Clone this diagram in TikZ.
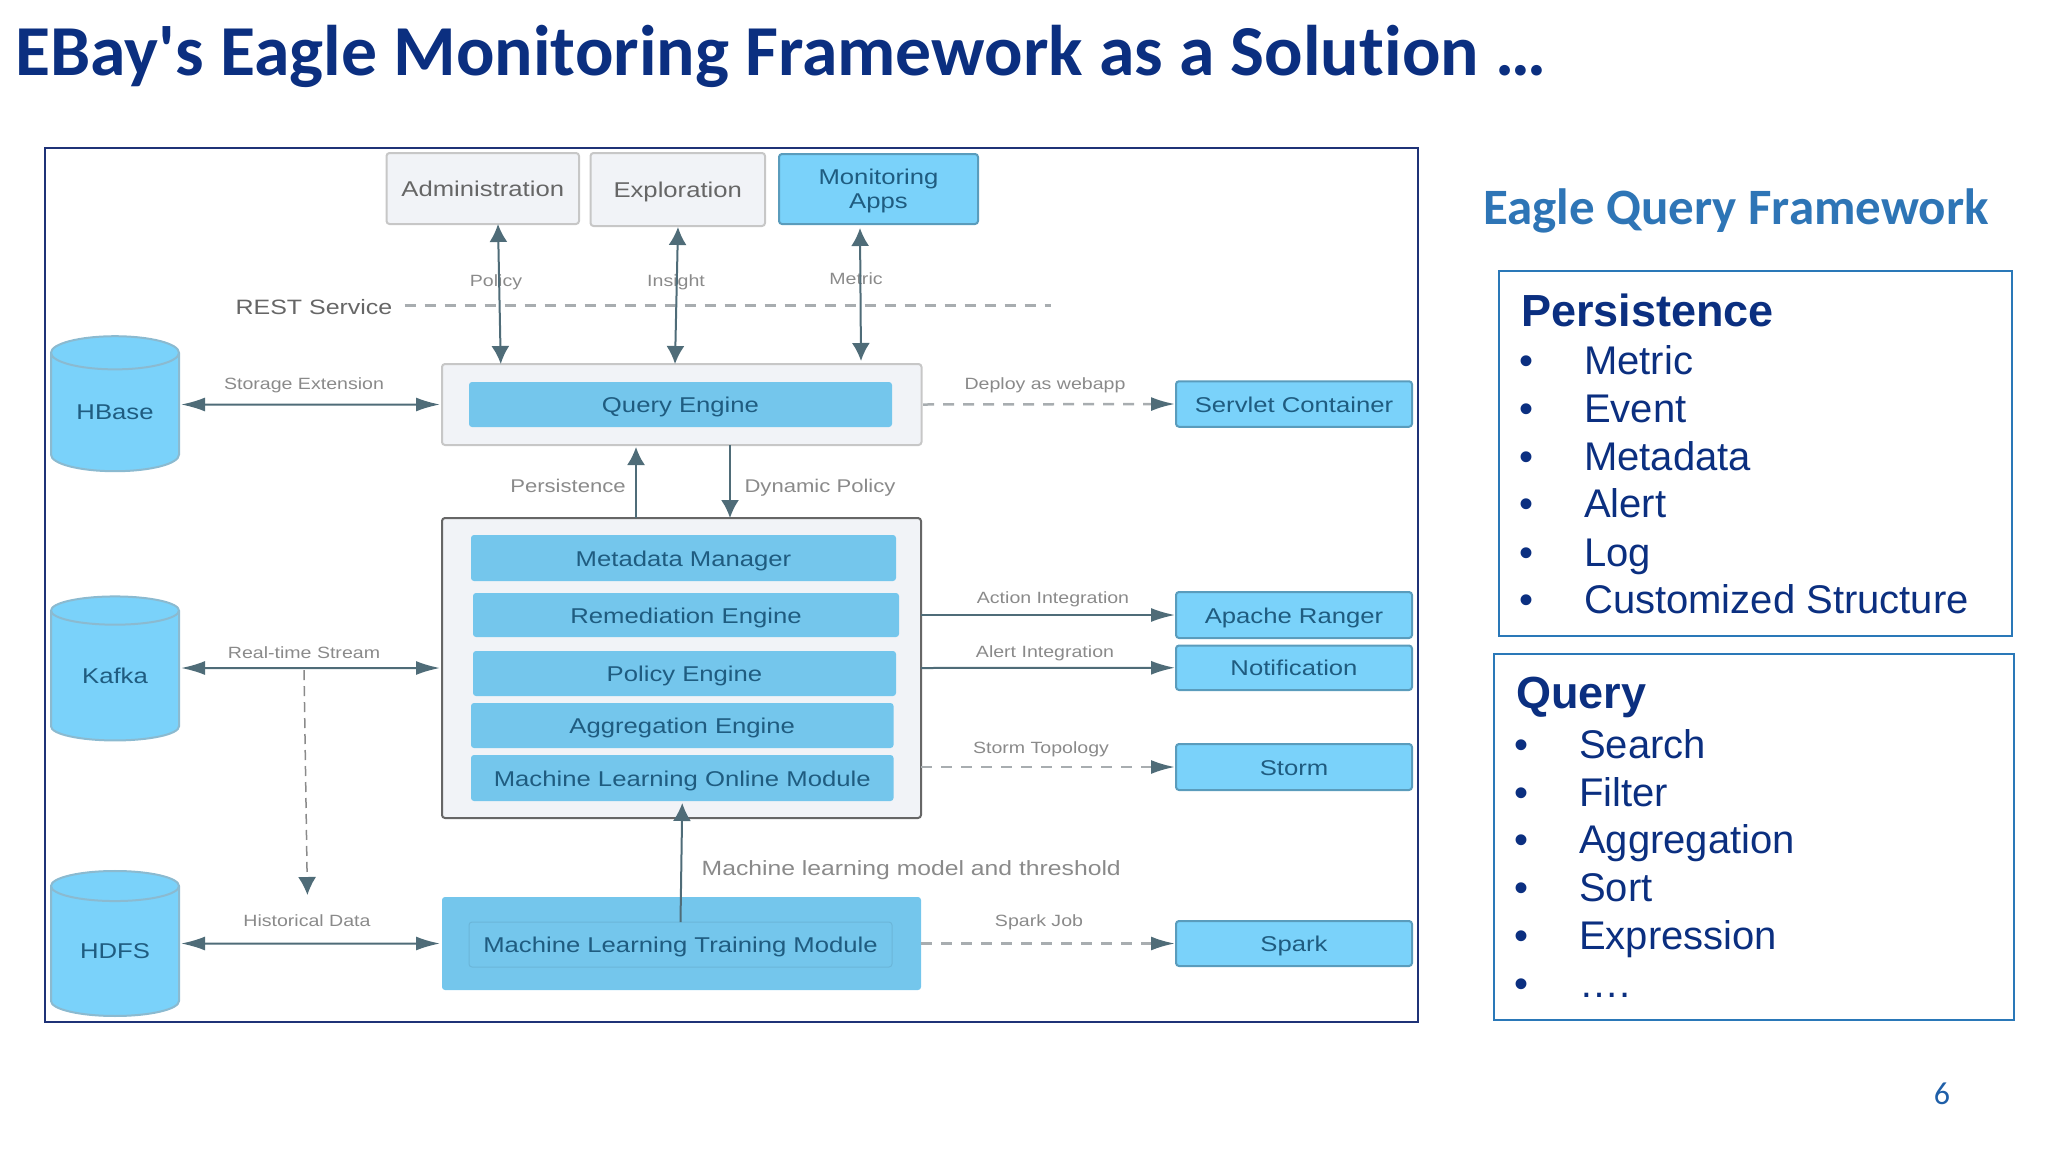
\documentclass[tikz,border=0pt]{standalone}
\usepackage{fontspec}
\usetikzlibrary{arrows.meta, shapes.geometric}
\setmainfont{Liberation Sans}
\newfontfamily\diagramfont[FakeStretch=1.2]{Liberation Sans}
\newfontfamily\titlefont[Ligatures=NoCommon]{Carlito}
\definecolor{navyBlue}{HTML}{0B2F80}
\definecolor{frameBlue}{HTML}{1F3277}
\definecolor{panelBlue}{HTML}{2A78B8}
\definecolor{headBlue}{HTML}{2E75B6}
\definecolor{pageBlue}{HTML}{1F5FA8}
\definecolor{skyBlue}{HTML}{7AD2FA}
\definecolor{engineBlue}{HTML}{74C6EC}
\definecolor{edgeBlue}{HTML}{5A9CBC}
\definecolor{inkBlue}{HTML}{1F5C80}
\definecolor{arrowGray}{HTML}{4F6C78}
\definecolor{labelGray}{HTML}{8A8A8A}
\definecolor{dashGray}{HTML}{A8ADB0}
\definecolor{paleGray}{HTML}{F1F3F7}
\begin{document}
\begin{tikzpicture}[x = 1pt, y = -1pt]
\tikzstyle{boxStyle} = [shape = rectangle, rounded corners = 3pt, outer sep = 0pt, inner sep = 0pt, align = center, text height = 20.4pt, text depth = 4pt, font = \diagramfont\fontsize{21.4}{23}\selectfont]
\tikzstyle{grayStyle} = [boxStyle, draw = black!22, line width = 2pt, fill = paleGray, text = black!60]
\tikzstyle{skyStyle} = [boxStyle, draw = edgeBlue, line width = 2pt, fill = skyBlue, text = inkBlue]
\tikzstyle{engineStyle} = [boxStyle, fill = engineBlue, text = inkBlue]
\tikzstyle{dbStyle} = [shape = cylinder, shape border rotate = 90, shape aspect = 0.43, outer sep = 0pt, inner sep = 0pt, draw = edgeBlue!70, line width = 2pt, cylinder uses custom fill, cylinder body fill = skyBlue, cylinder end fill = skyBlue, minimum width = 128pt, text = inkBlue, font = \diagramfont\fontsize{21.4}{23}\selectfont]
\tikzstyle{labelStyle} = [text = labelGray, inner sep = 0pt, text height = 16pt, text depth = 4pt, font = \diagramfont\fontsize{16.3}{18}\selectfont]
\tikzstyle{itemStyle} = [anchor = west, inner sep = 0pt, text height = 36.6pt, text depth = 8pt, text = navyBlue, font = \fontsize{40}{44}\selectfont]
\tikzstyle{headStyle} = [anchor = west, inner sep = 0pt, text height = 41pt, text depth = 9pt, text = navyBlue, font = \bfseries\fontsize{45}{48}\selectfont]
\tikzstyle{listBoxStyle} = [shape = rectangle, draw = panelBlue, line width = 2pt, outer sep = 0pt]
\tikzstyle{hEdgeStyle} = [draw = arrowGray, line width = 2pt, {Latex[length = 24pt, width = 14pt]}-{Latex[length = 24pt, width = 14pt]}]
\tikzstyle{vEdgeStyle} = [draw = arrowGray, line width = 2pt, {Latex[length = 18pt, width = 18pt]}-{Latex[length = 18pt, width = 18pt]}]
\tikzstyle{hDashStyle} = [draw = dashGray, line width = 2.5pt, dash pattern = on 11pt off 9pt, -{Latex[length = 24pt, width = 14pt, color = arrowGray]}]
\useasboundingbox (0, 0) rectangle (2048, 1152);
\node[anchor = base west, inner sep = 0pt, text = navyBlue, font = \titlefont\bfseries\fontsize{71.7}{76}\selectfont] (title) at (15, 75) {EBay's Eagle Monitoring Framework as a Solution \dots};
\node[anchor = west, inner sep = 0pt, text = headBlue, font = \titlefont\bfseries\fontsize{51}{55}\selectfont] (queryTitle) at (1483, 211) {Eagle Query Framework};
\node[inner sep = 0pt, text = pageBlue, font = \titlefont\fontsize{32}{36}\selectfont] (pageNumber) at (1942, 1094) {6};
\node[shape = rectangle, draw = frameBlue, line width = 2pt, minimum width = 1373pt, minimum height = 874pt] (frame) at (731.5, 585) {};
\node[grayStyle, minimum width = 192.5pt, minimum height = 71pt] (administration) at (482.75, 188.5) {Administration};
\node[grayStyle, minimum width = 174.5pt, minimum height = 73pt] (exploration) at (677.75, 189.5) {Exploration};
\node[skyStyle, text height =, text depth =, minimum width = 199pt, minimum height = 70pt] (monitoring) at (878.5, 189) {\rule{0pt}{20pt}Monitoring\\[1pt]Apps};
\node[grayStyle, minimum width = 479.5pt, minimum height = 81pt] (queryPanel) at (681.75, 404.5) {};
\node[engineStyle, minimum width = 423pt, minimum height = 45pt] (queryEngine) at (680.5, 404.5) {Query Engine};
\node[grayStyle, draw = black!60, minimum width = 479pt, minimum height = 300pt] (enginePanel) at (681.5, 668) {};
\node[engineStyle, minimum width = 425pt, minimum height = 46pt] (metadataManager) at (683.5, 558) {Metadata Manager};
\node[engineStyle, minimum width = 426pt, minimum height = 44pt] (remediationEngine) at (686, 615) {Remediation Engine};
\node[engineStyle, minimum width = 423pt, minimum height = 45pt] (policyEngine) at (684.5, 673.5) {Policy Engine};
\node[engineStyle, minimum width = 422.5pt, minimum height = 45pt] (aggregationEngine) at (682.25, 725.5) {Aggregation Engine};
\node[engineStyle, minimum width = 422.5pt, minimum height = 46pt] (onlineModule) at (682.25, 778) {Machine Learning Online Module};
\node[engineStyle, minimum width = 479pt, minimum height = 93pt] (trainingPanel) at (681.5, 943.5) {};
\node[engineStyle, draw = engineBlue!92!black, line width = 1pt, minimum width = 423pt, minimum height = 45pt] (trainingModule) at (680.5, 944.5) {Machine Learning Training Module};
\node[dbStyle, minimum height = 135pt] (hbase) at (115, 412.5) {HBase};
\node[dbStyle, minimum height = 144pt] (kafka) at (115, 676) {Kafka};
\node[dbStyle, minimum height = 145pt] (hdfs) at (115, 951.5) {HDFS};
\node[skyStyle, minimum width = 236pt, minimum height = 45.5pt] (servlet) at (1294, 404) {Servlet Container};
\node[skyStyle, minimum width = 236pt, minimum height = 46pt] (ranger) at (1294, 615) {Apache Ranger};
\node[skyStyle, minimum width = 236pt, minimum height = 44.5pt] (notification) at (1294, 667.75) {Notification};
\node[skyStyle, minimum width = 236pt, minimum height = 46pt] (storm) at (1294, 767) {Storm};
\node[skyStyle, minimum width = 236pt, minimum height = 45pt] (spark) at (1294, 943.5) {Spark};
\node[labelStyle, text = black!60, text height = 18pt, font = \diagramfont\fontsize{20.8}{22}\selectfont] (restLabel) at (314, 307) {REST Service};
\node[labelStyle] (policyLabel) at (496, 280) {Policy};
\node[labelStyle] (insightLabel) at (676, 280) {Insight};
\node[labelStyle] (metricLabel) at (856, 278) {Metric};
\node[labelStyle] (storageLabel) at (304, 383) {Storage Extension};
\node[labelStyle] (streamLabel) at (304, 652) {Real-time Stream};
\node[labelStyle] (historyLabel) at (307, 920) {Historical Data};
\node[labelStyle, font = \diagramfont\fontsize{18.4}{20}\selectfont] (persistLabel) at (568, 486) {Persistence};
\node[labelStyle, font = \diagramfont\fontsize{18.4}{20}\selectfont] (dynamicLabel) at (820, 486) {Dynamic Policy};
\node[labelStyle, anchor = west, text height = 18pt, font = \diagramfont\fontsize{20.6}{22}\selectfont] (modelLabel) at (701.5, 868) {Machine learning model and threshold};
\node[labelStyle] (deployLabel) at (1045, 383) {Deploy as webapp};
\node[labelStyle] (actionLabel) at (1053, 597) {Action Integration};
\node[labelStyle] (alertLabel) at (1045, 651) {Alert Integration};
\node[labelStyle] (topologyLabel) at (1041, 747) {Storm Topology};
\node[labelStyle] (jobLabel) at (1039, 920) {Spark Job};
\coordinate (restEnd) at (1051, 305);
\coordinate (streamTap) at (304, 670);
\coordinate (historyEnd) at (307.4, 895);
\draw[draw = dashGray, line width = 3pt, dash pattern = on 11pt off 9pt] ([xshift = 12pt, yshift = 2pt]restLabel.east) -- (restEnd);
\draw[vEdgeStyle] ([xshift = 15.25pt]administration.south) -- ([xshift = -181pt]queryPanel.north);
\draw[vEdgeStyle] ([xshift = 0.25pt, yshift = -1pt]exploration.south) -- ([xshift = -6.75pt]queryPanel.north);
\draw[vEdgeStyle] ([xshift = -18.5pt, yshift = -4pt]monitoring.south) -- ([xshift = 179.25pt, yshift = 3pt]queryPanel.north);
\draw[hEdgeStyle] ([xshift = 2pt, yshift = 8pt]hbase.east) -- ([xshift = -2pt]queryPanel.west);
\draw[hEdgeStyle] ([xshift = 2pt, yshift = 8pt]kafka.east) -- ([xshift = -2pt]enginePanel.west);
\draw[hEdgeStyle] ([xshift = 2pt, yshift = 8pt]hdfs.east) -- ([xshift = -2pt]trainingPanel.west);
\draw[draw = arrowGray, line width = 2pt, -{Latex[length = 18pt, width = 18pt]}] ([xshift = -45.5pt]enginePanel.north) -- ([xshift = -45.75pt, yshift = -2pt]queryPanel.south);
\draw[draw = arrowGray, line width = 2pt, -{Latex[length = 18pt, width = 18pt]}] ([xshift = 48.25pt]queryPanel.south) -- ([xshift = 48.5pt]enginePanel.north);
\draw[draw = arrowGray, line width = 2pt, -{Latex[length = 18pt, width = 18pt]}] (trainingModule.north) -- ([yshift = -2pt]onlineModule.south);
\draw[draw = labelGray, line width = 1.5pt, dash pattern = on 10pt off 6pt, -{Latex[length = 18pt, width = 18pt, color = arrowGray]}] (streamTap) -- (historyEnd);
\draw[hDashStyle] ([xshift = 1.5pt]queryPanel.east) -- ([xshift = -1pt]servlet.west);
\draw[draw = arrowGray, line width = 2pt, -{Latex[length = 24pt, width = 14pt]}] ([yshift = 53pt]enginePanel.east) -- ([xshift = -1pt]ranger.west);
\draw[draw = arrowGray, line width = 2pt, -{Latex[length = 24pt, width = 14pt]}] ([yshift = 0pt]enginePanel.east) -- ([xshift = -1pt]notification.west);
\draw[hDashStyle] ([yshift = -99pt]enginePanel.east) -- ([xshift = -1pt]storm.west);
\draw[hDashStyle] (trainingPanel.east) -- ([xshift = -1pt]spark.west);
\node[listBoxStyle, minimum width = 513.5pt, minimum height = 365pt] (persistenceBox) at (1755.25, 453.5) {};
\node[listBoxStyle, minimum width = 520pt, minimum height = 365.6pt] (queryBox) at (1754, 836.8) {};
\node[headStyle] (persistenceHead) at (1521, 310.6) {Persistence};
\node[itemStyle] (metricItem) at (1519, 360.6) {\makebox[65pt][l]{•}Metric};
\node[itemStyle] (eventItem) at (1519, 408) {\makebox[65pt][l]{•}Event};
\node[itemStyle] (metadataItem) at (1519, 456) {\makebox[65pt][l]{•}Metadata};
\node[itemStyle] (alertItem) at (1519, 503.5) {\makebox[65pt][l]{•}Alert};
\node[itemStyle] (logItem) at (1519, 552) {\makebox[65pt][l]{•}Log};
\node[itemStyle] (customItem) at (1519, 599.5) {\makebox[65pt][l]{•}Customized Structure};
\node[headStyle] (queryHead) at (1516, 692) {Query};
\node[itemStyle] (searchItem) at (1514, 744) {\makebox[65pt][l]{•}Search};
\node[itemStyle] (filterItem) at (1514, 792) {\makebox[65pt][l]{•}Filter};
\node[itemStyle] (aggregationItem) at (1514, 839) {\makebox[65pt][l]{•}Aggregation};
\node[itemStyle] (sortItem) at (1514, 887) {\makebox[65pt][l]{•}Sort};
\node[itemStyle] (expressionItem) at (1514, 935) {\makebox[65pt][l]{•}Expression};
\node[itemStyle] (dotsItem) at (1514, 983) {\makebox[65pt][l]{•}….};
\end{tikzpicture}
\end{document}
